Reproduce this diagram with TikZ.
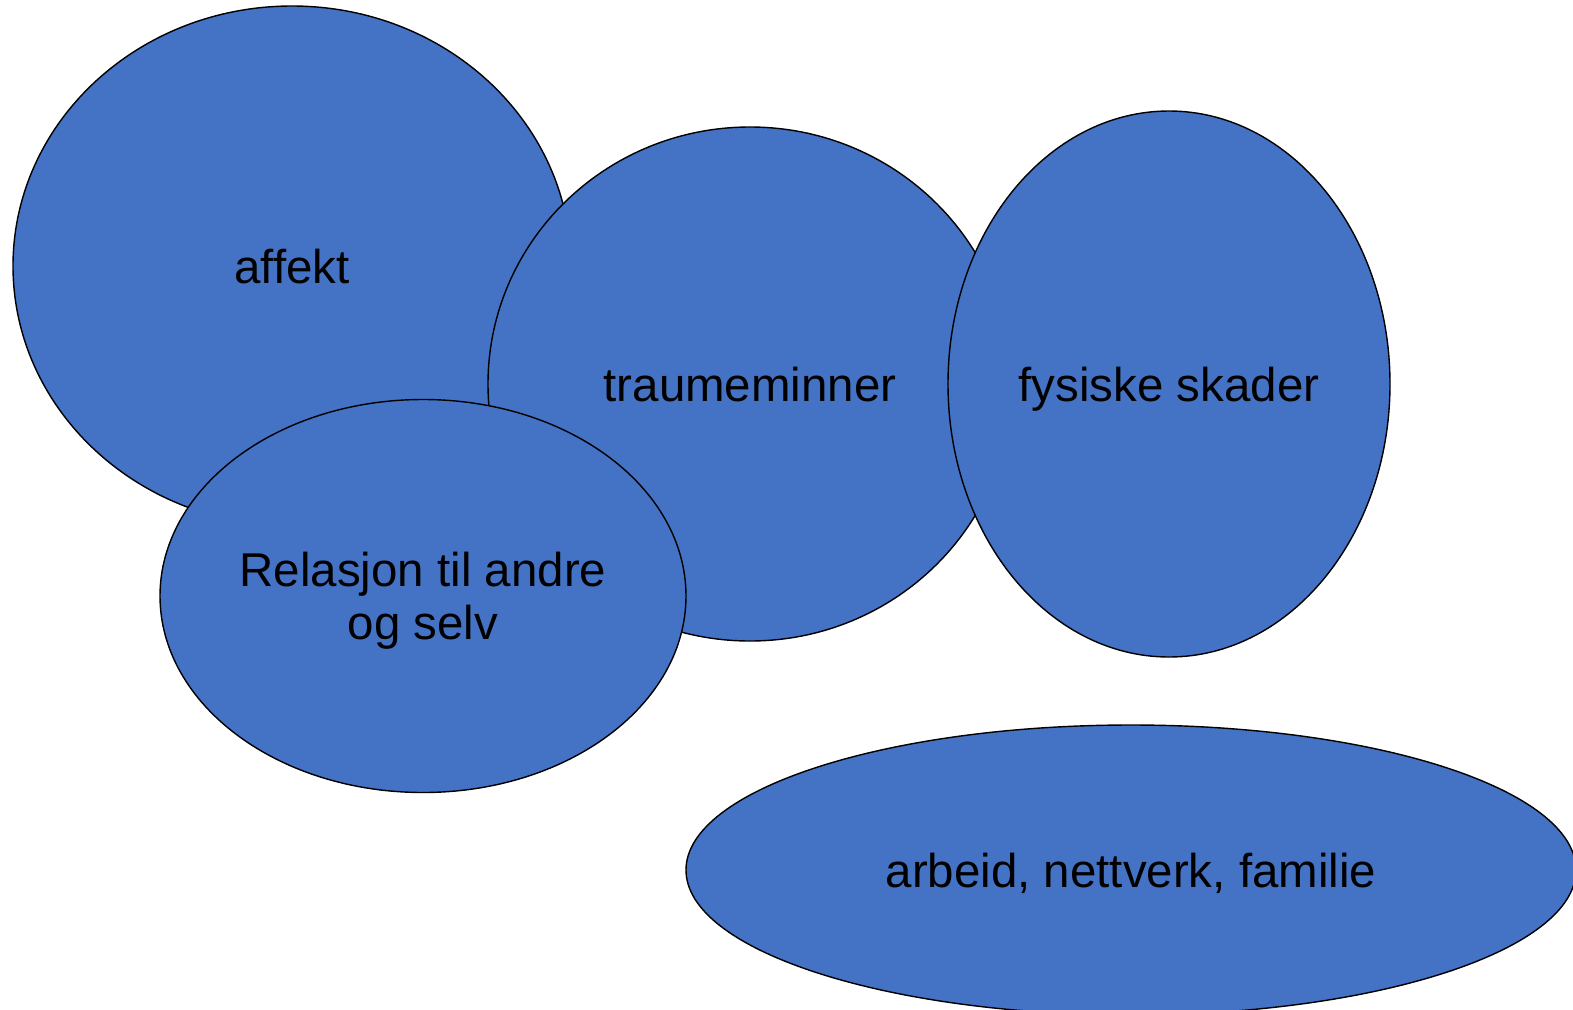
\documentclass[tikz,border=0pt]{standalone}
\usepackage{fontspec}
\setmainfont{Liberation Sans}
\usepackage{xcolor}
\usetikzlibrary{shapes.geometric}
\definecolor{blobblue}{HTML}{4472C4}

\begin{document}
\begin{tikzpicture}[every node/.style={ellipse,draw=black,line width=0.4pt,fill=blobblue,
    inner sep=0pt,align=center,text height=10pt,text depth=0pt,
    font=\fontsize{13.5}{15.2}\selectfont}]
    \useasboundingbox (0,0) rectangle (15.73,10.09);
    \node[minimum width=5.58cm,minimum height=5.20cm] (affekt) at (2.92,7.43) {affekt};
    \node[minimum width=5.24cm,minimum height=5.14cm] (traume) at (7.50,6.25) {traumeminner};
    \node[minimum width=4.42cm,minimum height=5.46cm] (fysisk) at (11.69,6.25) {fysiske skader};
    \node[minimum width=5.26cm,minimum height=3.93cm,text height={}]
      (relasjon) at (4.23,4.13) {Relasjon til andre\\og selv};
    \node[minimum width=8.90cm,minimum height=2.90cm] (arbeid) at (11.31,1.39) {arbeid, nettverk, familie};
  \end{tikzpicture}
\end{document}
